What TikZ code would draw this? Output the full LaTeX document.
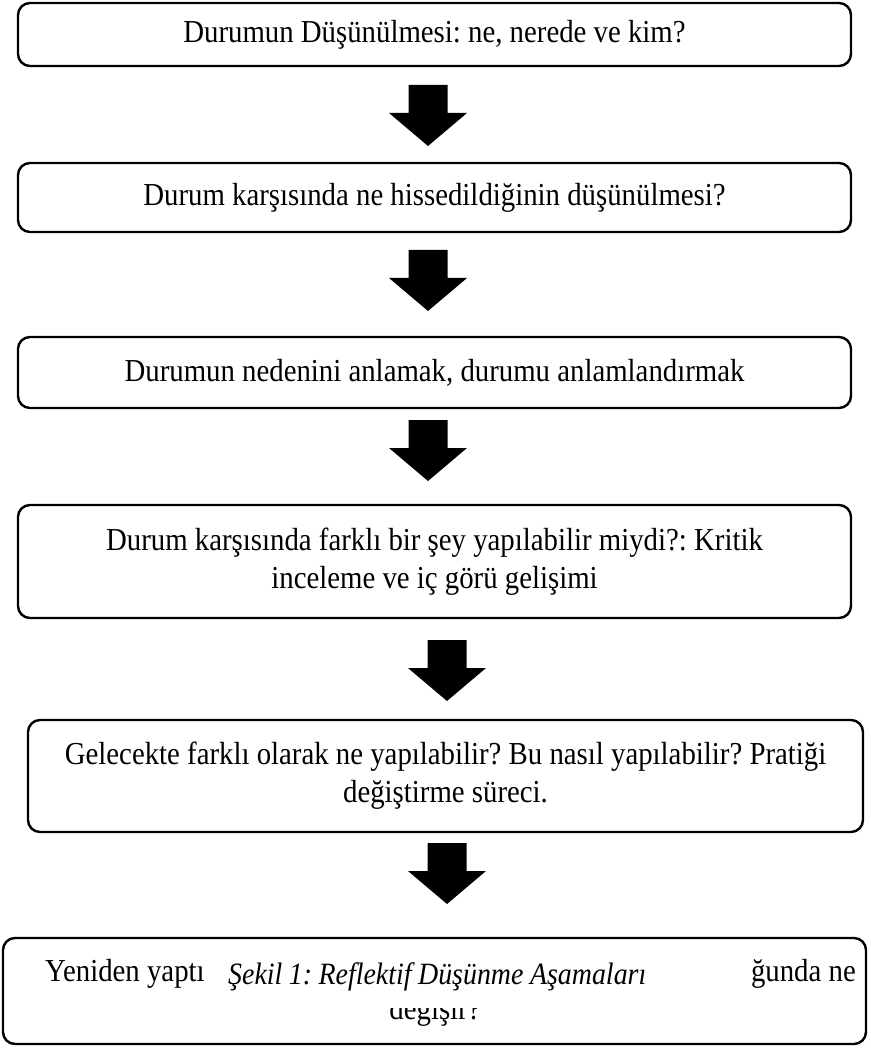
\documentclass[tikz,border=0pt]{standalone}
\usepackage{fontspec}
\setmainfont{Liberation Serif}[FakeStretch=0.9]
\frenchspacing
\begin{document}
\begin{tikzpicture}[x=1pt,y=-1pt,
  stage/.style={draw=black, line width=2.4pt, rounded corners=12pt, align=center,
    inner sep=0pt, font=\fontsize{32}{38}\selectfont},
  bodytext/.style={inner sep=0pt, font=\fontsize{32}{38}\selectfont},
  captiontext/.style={fill=white, inner sep=0pt, anchor=base west,
    text height=28pt, text depth=24pt,
    text width=473pt, align=left, font=\fontsize{31}{34}\selectfont\itshape},
  blockarrow/.pic={\fill[black] (-19.5,0) -- (19.5,0) -- (19.5,28) -- (39,28) -- (0,61)
    -- (-39,28) -- (-19.5,28) -- cycle;}
]
\useasboundingbox[fill=white] (0,0) rectangle (870,1048);

\node[stage, minimum width=833pt, minimum height=63pt] (b1) at (434.5,34.5)
  {Durumun Düşünülmesi: ne, nerede ve kim?};
\node[stage, minimum width=833pt, minimum height=69pt] (b2) at (434.5,197.5)
  {Durum karşısında ne hissedildiğinin düşünülmesi?};
\node[stage, minimum width=833pt, minimum height=71pt] (b3) at (434.5,372.5)
  {Durumun nedenini anlamak, durumu anlamlandırmak};
\node[stage, minimum width=833pt, minimum height=113pt] (b4) at (434.5,561.5)
  {Durum karşısında farklı bir şey yapılabilir miydi?: Kritik\\inceleme ve iç görü gelişimi};
\node[stage, minimum width=835pt, minimum height=112pt] (b5) at (445.5,776)
  {Gelecekte farklı olarak ne yapılabilir? Bu nasıl yapılabilir? Pratiği\\değiştirme süreci.};
\node[stage, minimum width=863pt, minimum height=106pt] (b6) at (434.5,991) {};

\pic at (428,85) {blockarrow};
\pic at (428,250) {blockarrow};
\pic at (428,420) {blockarrow};
\pic at (447,640) {blockarrow};
\pic at (447,843) {blockarrow};

\node[bodytext, anchor=base west] (t6a) at (45,981) {Yeniden yaptı};
\node[bodytext, anchor=base east] (t6b) at (856,981) {ğunda ne};
\node[bodytext, anchor=base] (t6c) at (435,1019) {değişir?};
\node[captiontext] (cap) at (222,984) {\hspace*{6pt}\spaceskip=6.5pt\relax Şekil 1: Reflektif Düşünme Aşamaları};
\end{tikzpicture}
\end{document}
